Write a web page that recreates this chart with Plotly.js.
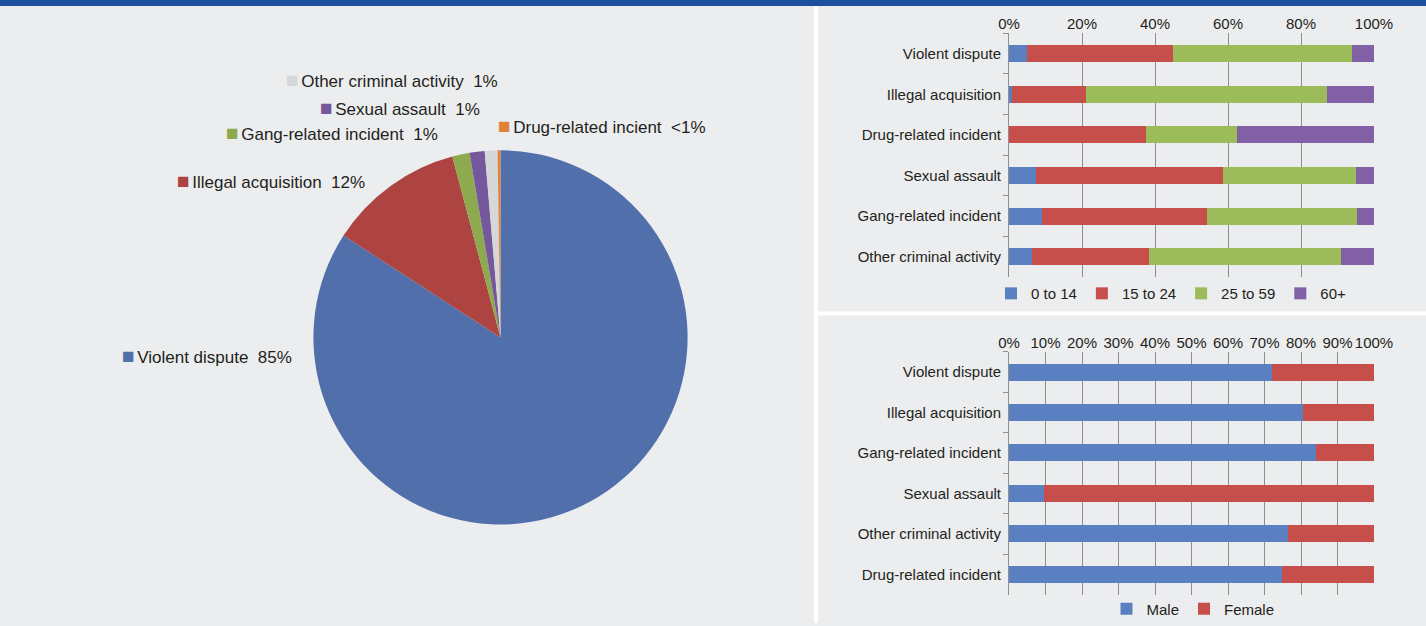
<!DOCTYPE html>
<html><head><meta charset="utf-8">
<script src="https://cdn.plot.ly/plotly-3.0.1.min.js"></script>
<style>html,body{margin:0;padding:0;background:#ecedef;}#chart{width:1426px;height:626px;}</style>
</head><body><div id="chart"></div>
<script>
// ---- Pie data (share of incidents) ----
const pieLabels = ["Violent dispute","Illegal acquisition","Gang-related incident","Sexual assault","Other criminal activity","Drug-related incient"];
const pieValues = [84.2, 11.7, 1.5, 1.3, 1.1, 0.25];
const pieShownPct = ["85%","12%","1%","1%","1%","<1%"];

// ---- Age breakdown (percent) ----
const ageCategories = ["Violent dispute","Illegal acquisition","Drug-related incident","Sexual assault","Gang-related incident","Other criminal activity"];
const ageGroups = ["0 to 14","15 to 24","25 to 59","60+"];
const age0to14  = [4.8, 0.8, 0.0, 7.5, 9.1, 6.2];
const age15to24 = [40.0, 20.4, 37.4, 51.0, 45.2, 32.1];
const age25to59 = [49.3, 65.8, 25.2, 36.7, 41.1, 52.7];
const age60plus = [5.9, 13.0, 37.4, 4.8, 4.6, 9.0];

// ---- Sex breakdown (percent) ----
const sexCategories = ["Violent dispute","Illegal acquisition","Gang-related incident","Sexual assault","Other criminal activity","Drug-related incident"];
const sexGroups = ["Male","Female"];
const male   = [72.1, 80.5, 84.2, 9.7, 76.5, 74.9];
const female = [27.9, 19.5, 15.8, 90.3, 23.5, 25.1];

const xTicks = [0,20,40,60,80,100];
const xTicks10 = [0,10,20,30,40,50,60,70,80,90,100];

// ---- styles ----
const W = 1426, H = 626;
const FONT = "Liberation Sans, Arial, sans-serif";
const TXT = "#231f20";
const pieColors = ["#5170ab","#ad4441","#8eaa4e","#75589b","#d6d7d9","#e0833a"];
const barColors = ["#5b80c2","#c64f4c","#9cbb5a","#8260a6"];
const px = v => v / W;
const py = v => 1 - v / H;

const traces = [];
traces.push({
  type: "pie", labels: pieLabels, values: pieValues, sort: false,
  direction: "clockwise", rotation: 0, textinfo: "none", hoverinfo: "label+percent",
  marker: {colors: pieColors, line: {width: 0}},
  domain: {x: [px(312), px(689)], y: [py(527), py(151)]},
  showlegend: false
});
const ageSeries = [age0to14, age15to24, age25to59, age60plus];
ageSeries.forEach((vals, i) => traces.push({
  type: "bar", orientation: "h", name: ageGroups[i], y: ageCategories, x: vals,
  marker: {color: barColors[i]}, xaxis: "x", yaxis: "y", legend: "legend"
}));
const sexSeries = [male, female];
sexSeries.forEach((vals, i) => traces.push({
  type: "bar", orientation: "h", name: sexGroups[i], y: sexCategories, x: vals,
  marker: {color: barColors[i]}, xaxis: "x2", yaxis: "y2", legend: "legend2"
}));

const annotations = pieLabels.map((lab, i) => ({
  text: '<span style="color:' + pieColors[i] + ';font-size:21px">\u25A0</span><span style="font-size:9px">\u00a0</span>' + lab + '\u00a0\u00a0' + pieShownPct[i],
  xref: "paper", yref: "paper", xanchor: "left", yanchor: "middle", showarrow: false,
  font: {family: FONT, size: 17, color: TXT}
}));
const labelPos = [[120,357],[175,181],[224,133],[318,108],[284,80],[496,126]];
annotations.forEach((a, i) => { a.x = px(labelPos[i][0]); a.y = py(labelPos[i][1]); });

const xAxisBase = {
  side: "top", range: [0, 100], showgrid: true, gridcolor: "#8f8f8f", gridwidth: 1,
  zeroline: false, showline: false, ticks: "",
  tickfont: {family: FONT, size: 15, color: TXT}, fixedrange: true
};
const yAxisBase = {
  type: "category", autorange: "reversed", showline: true, linecolor: "#8f8f8f", linewidth: 1,
  ticks: "outside", tickson: "boundaries", ticklen: 5, tickcolor: "#8f8f8f", ticklabelstandoff: 4,
  tickfont: {family: FONT, size: 15, color: TXT}, showgrid: false, zeroline: false, fixedrange: true
};

const layout = {
  width: W, height: H, margin: {l: 0, r: 0, t: 0, b: 0},
  paper_bgcolor: "#ecedef", plot_bgcolor: "rgba(0,0,0,0)",
  barmode: "stack", bargap: 0.58,
  font: {family: FONT, color: TXT},
  xaxis: Object.assign({}, xAxisBase, {domain: [px(1009), px(1374)], anchor: "y", tickvals: xTicks, ticktext: xTicks.map(v => v + "%")}),
  yaxis: Object.assign({}, yAxisBase, {domain: [py(278.5), py(33.5)], anchor: "x", categoryorder: "array", categoryarray: ageCategories}),
  xaxis2: Object.assign({}, xAxisBase, {domain: [px(1009), px(1374)], anchor: "y2", tickvals: xTicks10, ticktext: xTicks10.map(v => v + "%")}),
  yaxis2: Object.assign({}, yAxisBase, {domain: [py(597.5), py(353.5)], anchor: "x2", categoryorder: "array", categoryarray: sexCategories}),
  legend: {orientation: "h", x: px(1171), xanchor: "center", y: py(295), yanchor: "middle",
    bgcolor: "rgba(0,0,0,0)", font: {family: FONT, size: 15, color: TXT}, itemwidth: 30, traceorder: "normal"},
  legend2: {orientation: "h", x: px(1193), xanchor: "center", y: py(612), yanchor: "middle",
    bgcolor: "rgba(0,0,0,0)", font: {family: FONT, size: 15, color: TXT}, itemwidth: 30, traceorder: "normal"},
  annotations: annotations,
  shapes: [
    {type: "rect", xref: "paper", yref: "paper", x0: 0, x1: 1, y0: py(6), y1: 1, fillcolor: "#1d4f9c", line: {width: 0}, layer: "above"},
    {type: "rect", xref: "paper", yref: "paper", x0: px(814), x1: px(818), y0: 0, y1: py(6), fillcolor: "#ffffff", line: {width: 0}, layer: "below"},
    {type: "rect", xref: "paper", yref: "paper", x0: px(818), x1: 1, y0: py(317), y1: py(313), fillcolor: "#ffffff", line: {width: 0}, layer: "below"}
  ]
};

Plotly.newPlot("chart", traces, layout, {displayModeBar: false, staticPlot: true});
</script></body></html>
